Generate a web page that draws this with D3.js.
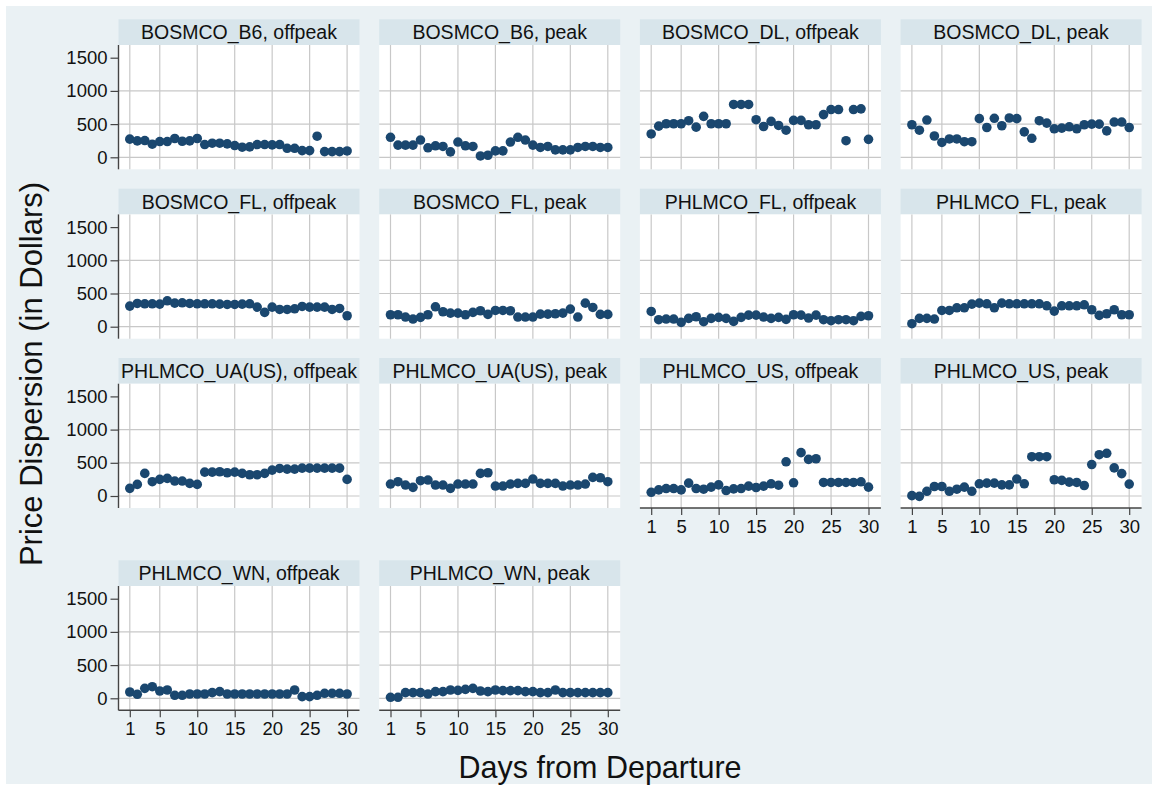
<!DOCTYPE html>
<html>
<head>
<meta charset="utf-8">
<script src="https://cdn.jsdelivr.net/npm/d3@7"></script>
<style>
  body { margin: 0; background: #fff; }
  svg { display: block; }
</style>
</head>
<body>
<div id="chart"></div>
<script>

/* Data: price dispersion by days from departure, one array per panel */
var days = d3.range(1, 31);

var panelTitles = [
    "BOSMCO_B6, offpeak", "BOSMCO_B6, peak", "BOSMCO_DL, offpeak", "BOSMCO_DL, peak",
    "BOSMCO_FL, offpeak", "BOSMCO_FL, peak", "PHLMCO_FL, offpeak", "PHLMCO_FL, peak",
    "PHLMCO_UA(US), offpeak", "PHLMCO_UA(US), peak", "PHLMCO_US, offpeak", "PHLMCO_US, peak",
    "PHLMCO_WN, offpeak", "PHLMCO_WN, peak"
];

var bosB6Off = [273, 247, 252, 197, 237, 237, 283, 242, 247, 283, 192, 212, 212, 202, 177,
                152, 157, 192, 192, 187, 192, 136, 136, 101, 101, 318, 86, 86, 86, 96];
var bosB6Peak = [301, 184, 184, 184, 260, 143, 173, 163, 82, 230, 173, 163, 20, 31, 97,
                 97, 230, 301, 260, 184, 148, 163, 112, 112, 112, 148, 163, 163, 148, 148];
var bosDLOff = [352, 469, 505, 505, 505, 551, 454, 617, 505, 505, 505, 796, 796, 796, 566,
                464, 541, 480, 408, 556, 556, 490, 490, 643, 719, 719, 250, 719, 730, 270];
var bosDLPeak = [490, 408, 561, 321, 224, 276, 276, 235, 235, 582, 449, 587, 475, 592, 582,
                 383, 286, 551, 515, 429, 439, 459, 429, 490, 500, 500, 398, 531, 531, 449];
var bosFLOff = [310, 350, 345, 345, 340, 390, 355, 360, 350, 345, 345, 345, 340, 335, 335,
                340, 345, 295, 215, 295, 260, 260, 270, 305, 295, 295, 295, 260, 275, 165];
var bosFLPeak = [180, 180, 145, 115, 140, 180, 300, 225, 205, 205, 180, 215, 240, 185, 245,
                 245, 240, 145, 145, 145, 190, 190, 195, 205, 265, 145, 355, 290, 185, 185];
var phlFLOff = [230, 105, 115, 115, 65, 125, 150, 75, 125, 140, 125, 80, 140, 175, 175,
                145, 125, 140, 110, 180, 175, 130, 175, 105, 90, 105, 105, 90, 155, 165];
var phlFLPeak = [45, 125, 125, 115, 245, 245, 285, 285, 340, 355, 345, 285, 355, 345, 345,
                 345, 345, 345, 315, 235, 315, 315, 315, 330, 255, 170, 195, 255, 180, 180];
var phlUAOff = [115, 175, 340, 215, 250, 265, 225, 225, 190, 175, 360, 360, 365, 350, 360,
                340, 320, 320, 340, 390, 415, 405, 405, 420, 420, 420, 420, 420, 420, 250];
var phlUAPeak = [180, 215, 165, 130, 230, 240, 165, 165, 115, 180, 180, 180, 340, 350, 150,
                 150, 180, 190, 190, 255, 190, 190, 190, 150, 165, 165, 180, 280, 275, 215];
var phlUSOff = [56, 92, 112, 112, 92, 194, 112, 102, 133, 168, 82, 107, 112, 148, 128,
                148, 184, 163, 515, 199, 653, 551, 561, 204, 204, 204, 204, 204, 214, 133];
var phlUSPeak = [5, -5, 71, 143, 143, 71, 102, 133, 71, 184, 194, 194, 168, 168, 255,
                 184, 592, 592, 592, 245, 235, 209, 204, 158, 474, 622, 643, 423, 337, 179];
var phlWNOff = [95, 60, 150, 175, 110, 125, 45, 45, 65, 65, 65, 85, 100, 65, 65,
                65, 65, 65, 65, 65, 65, 65, 125, 25, 25, 45, 75, 75, 75, 65];
var phlWNPeak = [15, 15, 85, 85, 85, 65, 100, 100, 125, 120, 135, 150, 110, 100, 125,
                 115, 115, 115, 100, 100, 85, 85, 125, 85, 85, 85, 85, 85, 85, 85];

var series = [bosB6Off, bosB6Peak, bosDLOff, bosDLPeak, bosFLOff, bosFLPeak, phlFLOff, phlFLPeak,
              phlUAOff, phlUAPeak, phlUSOff, phlUSPeak, phlWNOff, phlWNPeak];

var yTicks = [0, 500, 1000, 1500];
var yGrid = [0, 500, 1000];
var xTicks = [1, 5, 10, 15, 20, 25, 30];

/* Layout */
var width = 1155, height = 785,
    fontFamily = "'Liberation Sans', Arial, Helvetica, sans-serif",
    colLeft = [118.5, 379.2, 639.9, 900.6],
    rowTop = [19.3, 188.7, 358, 560.3],
    panelW = 241,
    headH = 25.7,
    plotH = 124.3,
    ncol = 4;

var svg = d3.select("#chart")
    .append("svg")
    .attr("width", width)
    .attr("height", height);

/* Outer background */
svg.append("rect")
    .attr("x", 6).attr("y", 6)
    .attr("width", 1146).attr("height", 778)
    .attr("fill", "#eaf1f4");

/* Scales relative to the plot region */
var x = d3.scaleLinear().domain([1, 30]).range([11.3, 228.6]);
var y = d3.scaleLinear().domain([0, 1500]).range([112.3, 12.7]);

series.forEach(function(vals, i) {
    var col = i % ncol,
        row = Math.floor(i / ncol),
        left = colLeft[col],
        top = rowTop[row];

    var g = svg.append("g")
        .attr("transform", "translate(" + left + "," + top + ")");

    /* Header strip */
    g.append("rect")
        .attr("width", panelW)
        .attr("height", headH)
        .attr("fill", "#d8e5eb");

    g.append("text")
        .attr("x", panelW / 2)
        .attr("y", headH / 2 + 7)
        .attr("text-anchor", "middle")
        .attr("font-family", fontFamily)
        .attr("font-size", 19.5)
        .attr("fill", "#111")
        .text(panelTitles[i]);

    var p = g.append("g")
        .attr("transform", "translate(0," + headH + ")");

    p.append("rect")
        .attr("width", panelW)
        .attr("height", plotH)
        .attr("fill", "#fff");

    /* Grid lines */
    p.selectAll(".vgrid")
        .data(xTicks)
        .enter().append("line")
        .attr("x1", function(d) { return x(d); })
        .attr("x2", function(d) { return x(d); })
        .attr("y1", 0)
        .attr("y2", plotH)
        .attr("stroke", "#c8c8c8")
        .attr("stroke-width", 1.2);

    p.selectAll(".hgrid")
        .data(yGrid)
        .enter().append("line")
        .attr("x1", 0)
        .attr("x2", panelW)
        .attr("y1", function(d) { return y(d); })
        .attr("y2", function(d) { return y(d); })
        .attr("stroke", "#c8c8c8")
        .attr("stroke-width", 1.2);

    /* Y axis on first column */
    if (col === 0) {
        var ya = p.append("g")
            .call(d3.axisLeft(y).tickValues(yTicks).tickSize(8).tickPadding(3).tickFormat(d3.format("d")));
        ya.select(".domain").attr("d", "M0,0V" + plotH).attr("stroke", "#444").attr("stroke-width", 1.4);
        ya.selectAll(".tick line").attr("stroke", "#444").attr("stroke-width", 1.2);
        ya.selectAll(".tick text")
            .attr("font-family", fontFamily)
            .attr("font-size", 18.5)
            .attr("fill", "#111");
    }

    /* X axis on the bottom panel of each column */
    var lastRow = (i + ncol >= series.length);
    if (lastRow) {
        var xa = p.append("g")
            .attr("transform", "translate(0," + plotH + ")")
            .call(d3.axisBottom(x).tickValues(xTicks).tickSize(7).tickPadding(5));
        xa.select(".domain").attr("d", "M0,0H" + panelW).attr("stroke", "#444").attr("stroke-width", 1.4);
        xa.selectAll(".tick line").attr("stroke", "#444").attr("stroke-width", 1.2);
        xa.selectAll(".tick text")
            .attr("font-family", fontFamily)
            .attr("font-size", 18.5)
            .attr("fill", "#111");
    }

    /* Points */
    p.selectAll("circle")
        .data(vals)
        .enter().append("circle")
        .attr("cx", function(d, j) { return x(days[j]); })
        .attr("cy", function(d) { return y(d); })
        .attr("r", 4.8)
        .attr("fill", "#1a476f");
});

/* Axis titles */
svg.append("text")
    .attr("x", 600)
    .attr("y", 778)
    .attr("text-anchor", "middle")
    .attr("font-family", fontFamily)
    .attr("font-size", 30.5)
    .attr("fill", "#111")
    .text("Days from Departure");

svg.append("text")
    .attr("transform", "translate(42,374) rotate(-90)")
    .attr("text-anchor", "middle")
    .attr("font-family", fontFamily)
    .attr("font-size", 31)
    .attr("fill", "#111")
    .text("Price Dispersion (in Dollars)");

</script>
</body>
</html>
